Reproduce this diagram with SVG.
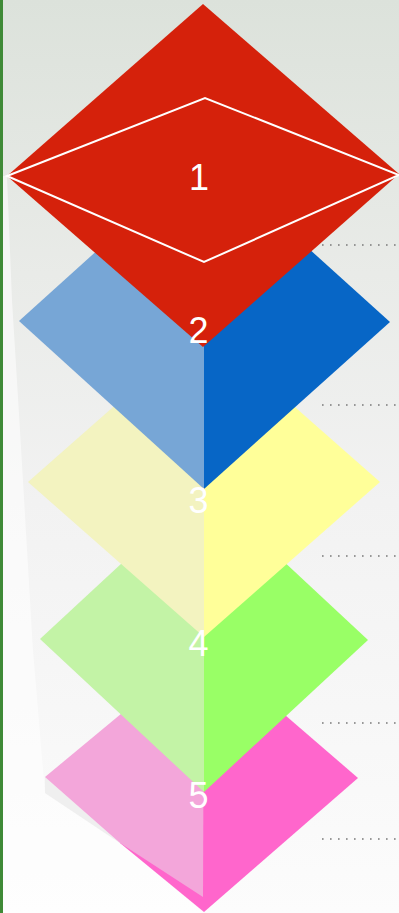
<svg xmlns="http://www.w3.org/2000/svg" width="399" height="913" viewBox="0 0 399 913">
<defs>
<linearGradient id="bg" x1="0" y1="0" x2="0" y2="1">
<stop offset="0" stop-color="#dce2db"/>
<stop offset="0.3" stop-color="#e9ebe8"/>
<stop offset="0.55" stop-color="#f2f2f2"/>
<stop offset="1" stop-color="#fcfcfc"/>
</linearGradient>
<style>
.lbl{font-family:"Liberation Sans",Arial,sans-serif;font-size:36px;fill:#ffffff;text-anchor:middle}
.dots{stroke:#7a7a7a;stroke-width:1.6;stroke-dasharray:1.6 6.4;fill:none}
</style>
</defs>
<rect x="0" y="0" width="399" height="913" fill="url(#bg)"/>
<polygon points="3,176 7,176 12,300 20,430 33,650 45,793 120,843 204,913 3,913" fill="#ffffff" opacity="0.55"/>
<rect x="0" y="0" width="3" height="913" fill="#3f8a37"/>
<g id="connectors">
<line class="dots" x1="322" y1="245" x2="399" y2="245"/>
<line class="dots" x1="322" y1="405" x2="399" y2="405"/>
<line class="dots" x1="322" y1="556" x2="399" y2="556"/>
<line class="dots" x1="322" y1="723" x2="399" y2="723"/>
<line class="dots" x1="322" y1="839" x2="399" y2="839"/>
</g>
<g id="node5">
<polygon points="45,777 45,793 120,843" fill="#efefef"/>
<polygon points="204,645 358,778 204,912 120,843" fill="#ff66cc"/>
<polygon points="204,645 45,777 120,843 203,897" fill="#f3a6da"/>
</g>
<g id="node4">
<polygon points="204,487 40,639 204,792" fill="#c3f3a6"/>
<polygon points="204,487 368,640 204,792" fill="#99ff66"/>
</g>
<g id="node3">
<polygon points="204,327 28,482 204,637" fill="#f3f3c0"/>
<polygon points="204,327 380,482 204,637" fill="#ffff99"/>
</g>
<g id="node2">
<polygon points="204,154 19,321 204,489" fill="#77a6d6"/>
<polygon points="204,154 390,322 204,489" fill="#0766c6"/>
</g>
<g id="node1">
<polygon points="203,4 399,174 203,347 7,176" fill="#d5210b"/>
<polygon points="7,176 205,98 399,175 204,262" fill="none" stroke="#ffffff" stroke-width="2"/>
</g>
<g id="labels">
<text class="lbl" x="199" y="190">1</text>
<text class="lbl" x="198.5" y="343">2</text>
<text class="lbl" x="198.5" y="513">3</text>
<text class="lbl" x="198.5" y="656">4</text>
<text class="lbl" x="198.5" y="808">5</text>
</g>
</svg>
